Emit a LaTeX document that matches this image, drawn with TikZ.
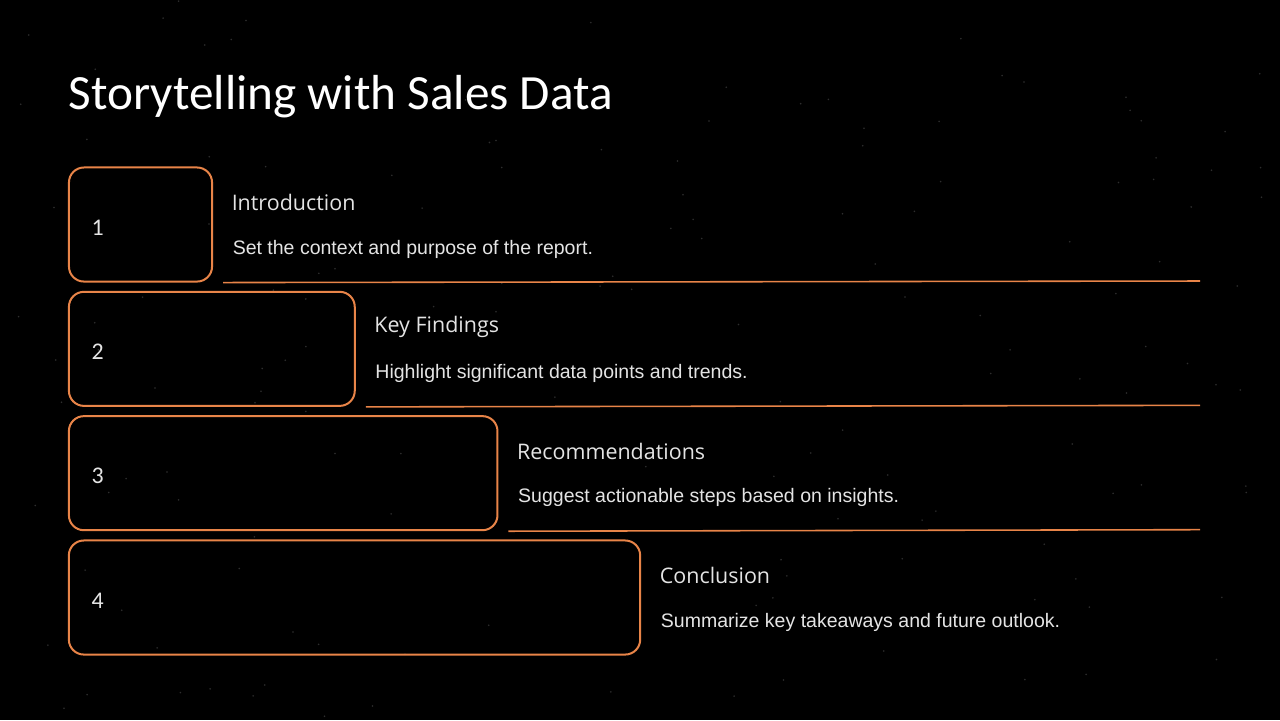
\documentclass[tikz,border=0pt]{standalone}
\usepackage{fontspec}
\setmainfont{Liberation Sans}
\newfontfamily\titlefont{Carlito}
\newfontfamily\headfont{Open Sans}
\usetikzlibrary{positioning}
\definecolor{accent}{RGB}{232,132,72}
\definecolor{bodytext}{RGB}{228,228,228}
\tikzset{
  stepbox/.style={draw=accent, line width=0.57pt, rounded corners=0.15cm, minimum height=1.14cm, inner sep=0pt},
  numlabel/.style={text=bodytext, font=\titlefont\fontsize{6.8}{8}\selectfont, inner sep=0pt},
  headlabel/.style={text=bodytext, font=\headfont\fontsize{6.1}{7}\selectfont, anchor=west, inner sep=0pt},
  desclabel/.style={text=bodytext, font=\fontsize{5.55}{6.5}\selectfont, anchor=west, inner sep=0pt},
  rule/.style={draw=accent, line width=0.45pt}
}
\begin{document}
\begin{tikzpicture}[x=0.01cm, y=-0.01cm]
	\fill[black] (0,0) rectangle (1280,720);
	\useasboundingbox (0,0) rectangle (1280,720);
	% faint stars
	\pgfmathsetseed{42}
	\foreach \s in {1,...,160}
		\fill[white, opacity=0.18] (rnd*1280, rnd*720) circle (0.25pt);
	\node[anchor=west, inner sep=0pt, text=white, font=\titlefont\fontsize{14}{16}\selectfont] (title) at (68,97) {Storytelling with Sales Data};
	\foreach \i/\head/\desc in {1/Introduction/Set the context and purpose of the report.,
			2/Key Findings/Highlight significant data points and trends.,
			3/Recommendations/Suggest actionable steps based on insights.,
			4/Conclusion/Summarize key takeaways and future outlook.}{
		\pgfmathsetmacro\boxw{143+142.67*(\i-1)}
		\pgfmathsetmacro\boxwcm{\boxw/100}
		\pgfmathsetmacro\cx{69+\boxw/2}
		\pgfmathsetmacro\cy{224.5+124.33*(\i-1)}
		\node[stepbox, minimum width=\boxwcm cm] (b\i) at (\cx,\cy) {};
		\node[numlabel, right=0.23cm of b\i.west, anchor=west, yshift=-0.03cm] (n\i) {\i};
		\node[headlabel] (h\i) at ([shift={(18,-22)}]b\i.east) {\head};
		\node[desclabel] (d\i) at ([shift={(19,24.5)}]b\i.east) {\desc};
	}
	\foreach \i in {1,2,3}{
		\coordinate (r\i) at (1200,{281+124.33*(\i-1)});
		\draw[rule] ([xshift=0.1cm]b\i.south east) -- (r\i);
	}
\end{tikzpicture}
\end{document}
